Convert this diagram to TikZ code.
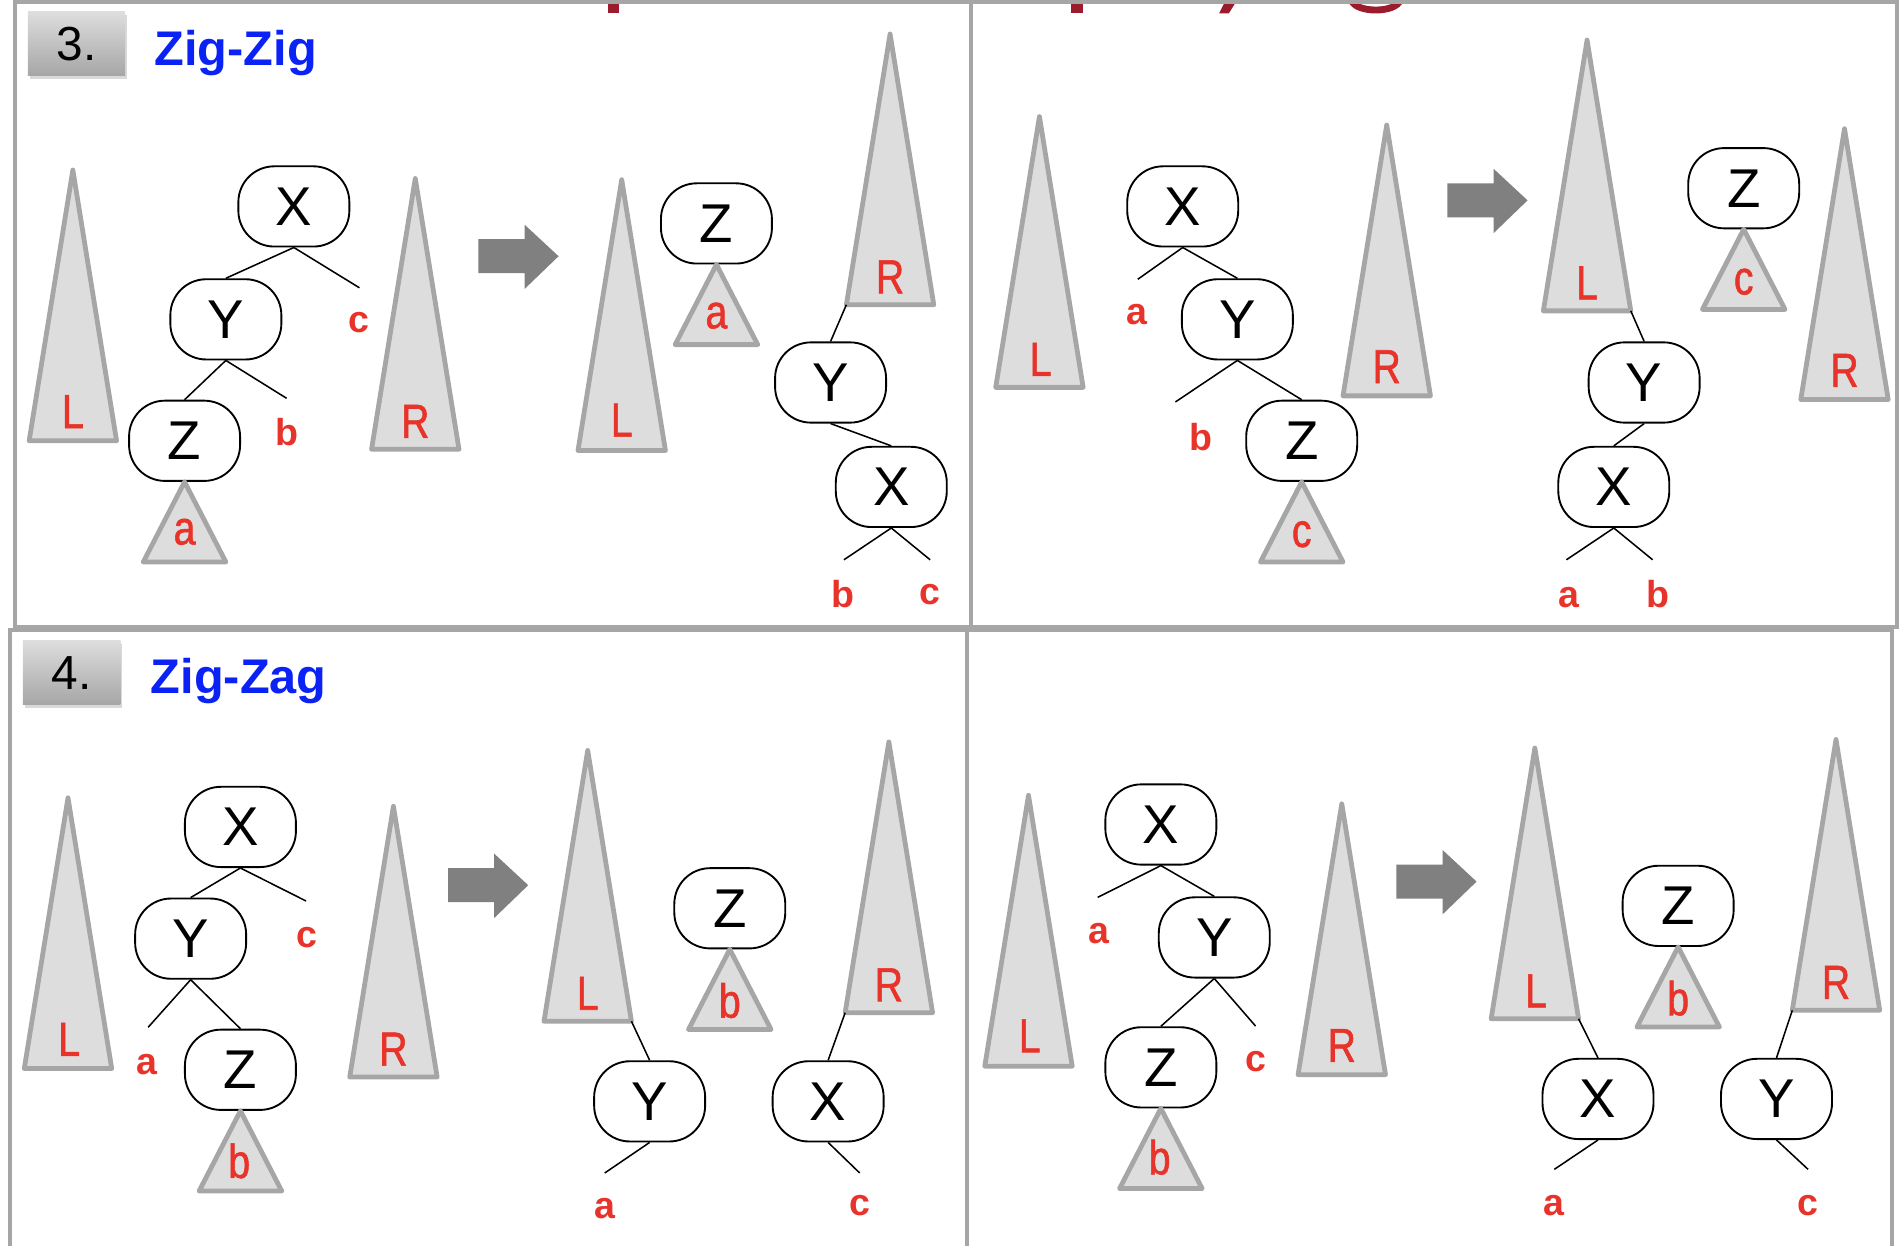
\documentclass[tikz,border=0pt]{standalone}
\usepackage{fontspec}
\setmainfont{Liberation Sans}
\newfontfamily\narrowfont[FakeStretch=0.82,FakeBold=1.2]{Liberation Sans}
\usetikzlibrary{shadows}
\definecolor{framegray}{HTML}{A6A6A6}
\definecolor{trifill}{HTML}{DDDDDD}
\definecolor{labelred}{HTML}{E8332A}
\definecolor{titleblue}{HTML}{0B22F5}
\definecolor{arrowgray}{HTML}{808080}
\definecolor{headred}{HTML}{9B1C2C}
\tikzset{
  % Tree nodes
  treenode/.style={draw,line width=1.1pt,fill=white,rounded corners=21pt,
                   minimum width=65pt,minimum height=47pt,inner sep=0pt,
                   font=\fontsize{32}{32}\selectfont},
  % Subtree triangles and their names
  tri/.style={draw=framegray,fill=trifill,line width=2.8pt,line join=round},
  tlbl/.style={text=labelred,inner sep=0pt,
               font=\narrowfont\fontsize{28}{28}\selectfont},
  % Loose child pointers
  stub/.style={line width=0.9pt},
  slbl/.style={text=labelred,inner sep=0pt,font=\bfseries\fontsize{22}{22}\selectfont},
  % Panel frames and headings
  panel/.style={draw=framegray,line width=2.4pt},
  badge/.style={top color=black!13,bottom color=black!35,minimum width=57pt,
                minimum height=37.7pt,inner sep=0pt,
                drop shadow={opacity=0.3,shadow xshift=1pt,shadow yshift=-2pt},
                font=\fontsize{28}{28}\selectfont},
  heading/.style={text=titleblue,anchor=base west,inner sep=0pt,
                  font=\bfseries\fontsize{28.5}{28.5}\selectfont}
}
% subtree: name, apex, half base, height
\newcommand{\subtree}[4]{%
  \draw[tri] (#2) coordinate (#1-top) -- ++(#3,#4) coordinate (#1-br)
    -- ++(-2*#3,0) coordinate (#1-bl) -- cycle;}
% grey block arrow: left x, centre y
\newcommand{\blockarrow}[2]{%
  \fill[arrowgray] (#1,#2-14) -- ++(38,0) -- ++(0,-12) -- ++(28,26)
    -- ++(-28,27) -- ++(0,-13) -- ++(-38,0) -- cycle;}

\begin{document}
\begin{tikzpicture}[x=0.025cm,y=-0.025cm]
  \useasboundingbox (0,0) rectangle (1568,1026);

  % Cut-off title above the panels
  \fill[headred] (501,3) rectangle (510,11);
  \fill[headred] (882,3) rectangle (892,11);
  \fill[headred] (1008,3) -- (1017,3) -- (1012,11) -- (1004,11) -- cycle;
  \draw[headred,line width=4pt] (1113,0) .. controls (1116,11) and (1150,11) .. (1153,0);

  % Panel frames
  \draw[panel] (12,2) rectangle (800,516);
  \draw[panel] (800,2) rectangle (1562,516);
  \draw[panel] (8,519) rectangle (796,1040);
  \draw[panel] (796,519) rectangle (1558,1040);

  % Headings
  \node[badge] (b3) at (63,36) {3.};
  \node[heading] (h3) at (127,54) {Zig-Zig};
  \node[badge] (b4) at (59,554) {4.};
  \node[heading] (h4) at (124,571) {Zig-Zag};

  %%% 3. Zig-Zig, before
  \subtree{tl1}{60,140}{36}{223}
  \subtree{tr1}{342,147}{36}{223}
  \node[treenode] (x1) at (242,170) {X};
  \node[treenode] (y1) at (186,263) {Y};
  \node[treenode] (z1) at (152,363) {Z};
  \subtree{ta1}{z1.south}{34}{66}
  \coordinate (c1) at (296,237);
  \coordinate (b1) at (236,328);
  \draw[stub] (x1.south) -- (y1.north);
  \draw[stub] (x1.south) -- (c1);
  \draw[stub] (y1.south) -- (z1.north);
  \draw[stub] (y1.south) -- (b1);
  \node[tlbl] (tl1l) at (60,339) {L};
  \node[tlbl] (tr1l) at (342,347) {R};
  \node[tlbl] (ta1l) at (152,438) {a};
  \node[slbl] (c1l) at (296,266) {c};
  \node[slbl] (b1l) at (236,356) {b};

  \blockarrow{394}{211}

  % 3. Zig-Zig, after
  \subtree{tl2}{512,148}{36}{223}
  \subtree{tr2}{733,28}{36}{223}
  \node[treenode] (z2) at (590,184) {Z};
  \subtree{ta2}{z2.south}{34}{66}
  \node[treenode] (y2) at (684,315) {Y};
  \node[treenode] (x2) at (734,401) {X};
  \coordinate (b2) at (695,461);
  \coordinate (c2) at (766,461);
  \draw[stub] (tr2-bl) -- (y2.north);
  \draw[stub] (y2.south) -- (x2.north);
  \draw[stub] (x2.south) -- (b2);
  \draw[stub] (x2.south) -- (c2);
  \node[tlbl] (tl2l) at (512,346) {L};
  \node[tlbl] (tr2l) at (733,228) {R};
  \node[tlbl] (ta2l) at (590,260) {a};
  \node[slbl] (b2l) at (694,489) {b};
  \node[slbl] (c2l) at (766,490) {c};

  %%% 3. mirrored, before
  \subtree{tl3}{856,96}{36}{223}
  \subtree{tr3}{1142,103}{36}{223}
  \node[treenode] (x3) at (974,170) {X};
  \node[treenode] (y3) at (1019,263) {Y};
  \node[treenode] (z3) at (1072,363) {Z};
  \subtree{tc3}{z3.south}{34}{66}
  \coordinate (a3) at (937,230);
  \coordinate (b3) at (968,331);
  \draw[stub] (x3.south) -- (a3);
  \draw[stub] (x3.south) -- (y3.north);
  \draw[stub] (y3.south) -- (b3);
  \draw[stub] (y3.south) -- (z3.north);
  \node[tlbl] (tl3l) at (857,296) {L};
  \node[tlbl] (tr3l) at (1142,302) {R};
  \node[tlbl] (tc3l) at (1072,440) {c};
  \node[slbl] (a3l) at (936,259) {a};
  \node[slbl] (b3l) at (989,360) {b};

  \blockarrow{1192}{165}

  % 3. mirrored, after
  \subtree{tl4}{1307,33}{36}{223}
  \subtree{tr4}{1519,106}{36}{223}
  \node[treenode] (z4) at (1436,155) {Z};
  \subtree{tc4}{z4.south}{34}{66}
  \node[treenode] (y4) at (1354,315) {Y};
  \node[treenode] (x4) at (1329,401) {X};
  \coordinate (a4) at (1290,461);
  \coordinate (b4) at (1361,461);
  \draw[stub] (tl4-br) -- (y4.north);
  \draw[stub] (y4.south) -- (x4.north);
  \draw[stub] (x4.south) -- (a4);
  \draw[stub] (x4.south) -- (b4);
  \node[tlbl] (tl4l) at (1307,233) {L};
  \node[tlbl] (tr4l) at (1519,305) {R};
  \node[tlbl] (tc4l) at (1436,232) {c};
  \node[slbl] (a4l) at (1292,492) {a};
  \node[slbl] (b4l) at (1365,489) {b};

  %%% 4. Zig-Zag, before
  \subtree{tl5}{56,657}{36}{223}
  \subtree{tr5}{324,664}{36}{223}
  \node[treenode] (x5) at (198,681) {X};
  \node[treenode] (y5) at (157,773) {Y};
  \node[treenode] (z5) at (198,881) {Z};
  \subtree{tb5}{z5.south}{34}{66}
  \coordinate (c5) at (252,742);
  \coordinate (a5) at (122,846);
  \draw[stub] (x5.south) -- (y5.north);
  \draw[stub] (x5.south) -- (c5);
  \draw[stub] (y5.south) -- (a5);
  \draw[stub] (y5.south) -- (z5.north);
  \node[tlbl] (tl5l) at (57,856) {L};
  \node[tlbl] (tr5l) at (324,864) {R};
  \node[tlbl] (tb5l) at (197,956) {b};
  \node[slbl] (c5l) at (253,772) {c};
  \node[slbl] (a5l) at (121,877) {a};

  \blockarrow{369}{729}

  % 4. Zig-Zag, after
  \subtree{tl6}{484,618}{36}{223}
  \subtree{tr6}{732,611}{36}{223}
  \node[treenode] (z6) at (601,748) {Z};
  \subtree{tb6}{z6.south}{34}{66}
  \node[treenode] (y6) at (535,907) {Y};
  \node[treenode] (x6) at (682,907) {X};
  \coordinate (a6) at (498,966);
  \coordinate (c6) at (708,966);
  \draw[stub] (tl6-br) -- (y6.north);
  \draw[stub] (tr6-bl) -- (x6.north);
  \draw[stub] (y6.south) -- (a6);
  \draw[stub] (x6.south) -- (c6);
  \node[tlbl] (tl6l) at (484,818) {L};
  \node[tlbl] (tr6l) at (732,811) {R};
  \node[tlbl] (tb6l) at (601,824) {b};
  \node[slbl] (a6l) at (498,995) {a};
  \node[slbl] (c6l) at (708,993) {c};

  %%% 4. mirrored, before
  \subtree{tl7}{847,655}{36}{223}
  \subtree{tr7}{1105,662}{36}{223}
  \node[treenode] (x7) at (956,679) {X};
  \node[treenode] (y7) at (1000,772) {Y};
  \node[treenode] (z7) at (956,879) {Z};
  \subtree{tb7}{z7.south}{34}{66}
  \coordinate (a7) at (904,739);
  \coordinate (c7) at (1034,845);
  \draw[stub] (x7.south) -- (a7);
  \draw[stub] (x7.south) -- (y7.north);
  \draw[stub] (y7.south) -- (z7.north);
  \draw[stub] (y7.south) -- (c7);
  \node[tlbl] (tl7l) at (848,853) {L};
  \node[tlbl] (tr7l) at (1105,861) {R};
  \node[tlbl] (tb7l) at (955,953) {b};
  \node[slbl] (a7l) at (905,769) {a};
  \node[slbl] (c7l) at (1034,874) {c};

  \blockarrow{1150}{726}

  % 4. mirrored, after
  \subtree{tl8}{1264,616}{36}{223}
  \subtree{tr8}{1512,609}{36}{223}
  \node[treenode] (z8) at (1382,746) {Z};
  \subtree{tb8}{z8.south}{34}{66}
  \node[treenode] (x8) at (1316,905) {X};
  \node[treenode] (y8) at (1463,905) {Y};
  \coordinate (a8) at (1280,963);
  \coordinate (c8) at (1489,963);
  \draw[stub] (tl8-br) -- (x8.north);
  \draw[stub] (tr8-bl) -- (y8.north);
  \draw[stub] (x8.south) -- (a8);
  \draw[stub] (y8.south) -- (c8);
  \node[tlbl] (tl8l) at (1265,816) {L};
  \node[tlbl] (tr8l) at (1512,809) {R};
  \node[tlbl] (tb8l) at (1382,822) {b};
  \node[slbl] (a8l) at (1280,993) {a};
  \node[slbl] (c8l) at (1489,993) {c};
\end{tikzpicture}
\end{document}
